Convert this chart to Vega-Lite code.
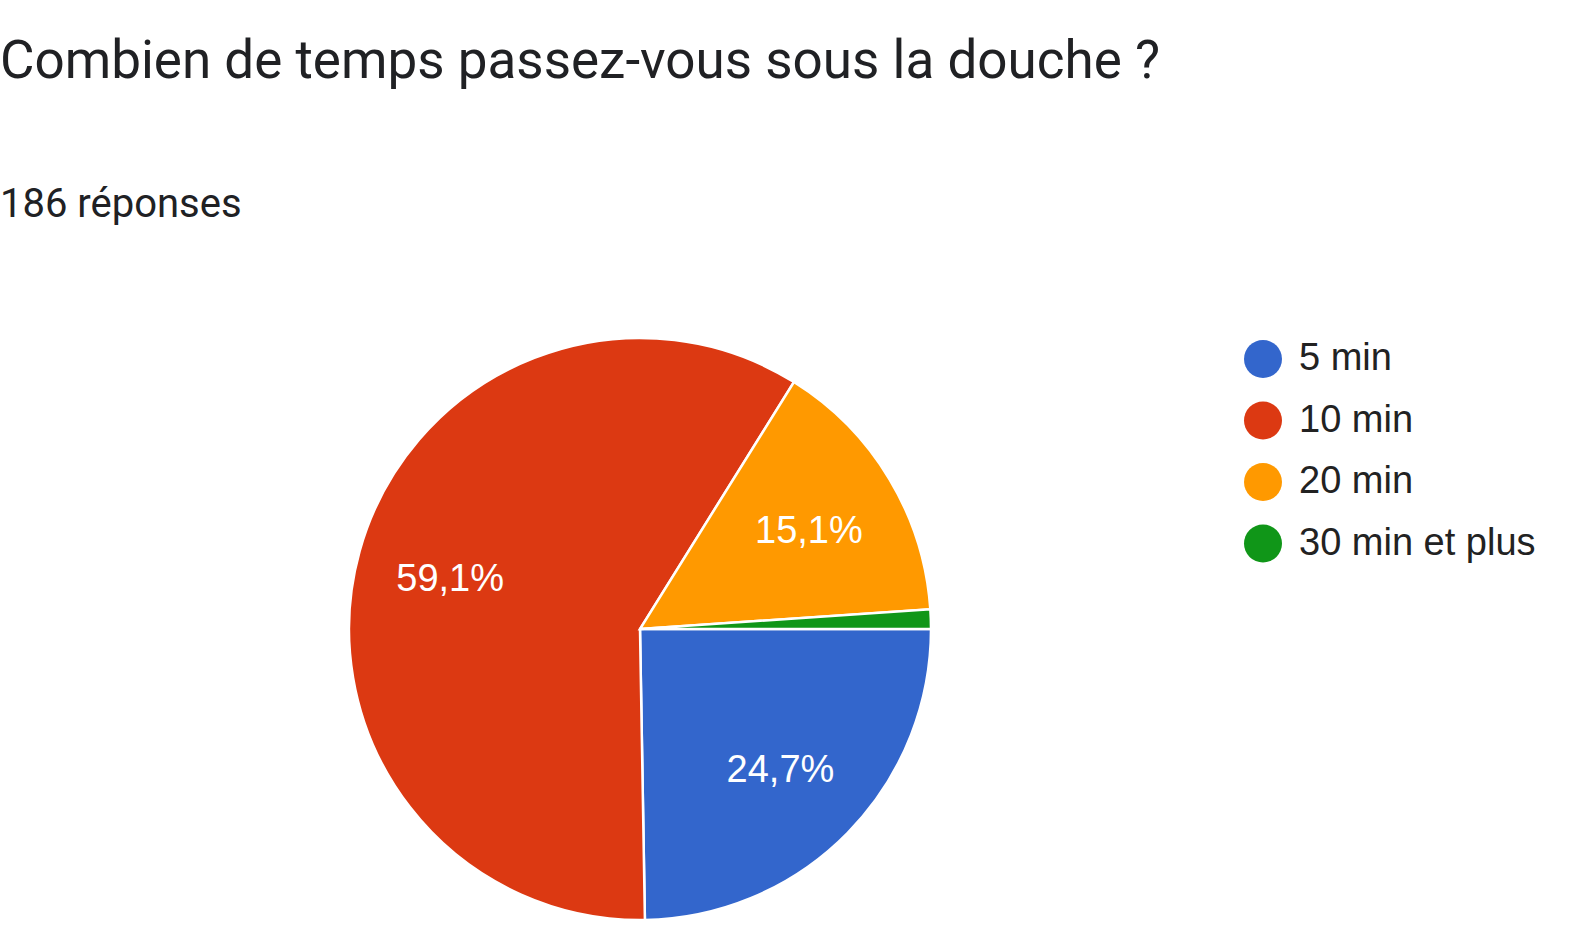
{
  "$schema": "https://vega.github.io/schema/vega-lite/v6.json",
  "width": 600,
  "height": 600,
  "autosize": {"type": "none"},
  "padding": {"left": 340, "top": 329, "right": 640, "bottom": 14},
  "background": "white",
  "config": {"view": {"stroke": null}},
  "title": {
    "text": "Combien de temps passez-vous sous la douche ?",
    "subtitle": "186 réponses",
    "anchor": "start",
    "frame": "group",
    "dx": -340,
    "font": "Roboto",
    "fontSize": 53,
    "fontWeight": "normal",
    "color": "#202124",
    "subtitleFont": "Roboto",
    "subtitleFontSize": 40,
    "subtitleColor": "#202124",
    "subtitlePadding": 96,
    "offset": 104
  },
  "data": {
    "values": [
      {"duree": "5 min", "n": 46, "ordre": 1, "label": "24,7%"},
      {"duree": "10 min", "n": 110, "ordre": 2, "label": "59,1%"},
      {"duree": "20 min", "n": 28, "ordre": 3, "label": "15,1%"},
      {"duree": "30 min et plus", "n": 2, "ordre": 4, "label": "1,1%"}
    ]
  },
  "layer": [
    {
      "mark": {"type": "arc", "outerRadius": 291, "stroke": "white", "strokeWidth": 2.5},
      "encoding": {
        "theta": {"field": "n", "type": "quantitative", "stack": true, "scale": {"range": [1.5707963, 7.8539816]}},
        "order": {"field": "ordre", "type": "quantitative"},
        "color": {
          "field": "duree",
          "type": "nominal",
          "sort": ["5 min", "10 min", "20 min", "30 min et plus"],
          "scale": {"domain": ["5 min", "10 min", "20 min", "30 min et plus"], "range": ["#3366CC", "#DC3912", "#FF9900", "#109618"]},
          "legend": {
            "orient": "none",
            "legendX": 904,
            "legendY": 11,
            "title": null,
            "padding": 0,
            "symbolType": "circle",
            "symbolSize": 1444,
            "symbolStrokeWidth": 0,
            "symbolOpacity": 1,
            "labelFont": "Liberation Sans",
            "labelFontSize": 38,
            "labelColor": "#222222",
            "labelOffset": 17,
            "labelLimit": 0,
            "rowPadding": 23.5
          }
        }
      }
    },
    {
      "mark": {"type": "text", "radius": 197, "font": "Liberation Sans", "fontSize": 38, "fill": "white", "align": "center", "baseline": "middle", "dy": 4},
      "encoding": {
        "theta": {"field": "n", "type": "quantitative", "stack": true},
        "order": {"field": "ordre", "type": "quantitative"},
        "detail": {"field": "duree", "type": "nominal"},
        "text": {"condition": {"test": "datum.n < 5", "value": ""}, "field": "label", "type": "nominal"}
      }
    }
  ]
}
